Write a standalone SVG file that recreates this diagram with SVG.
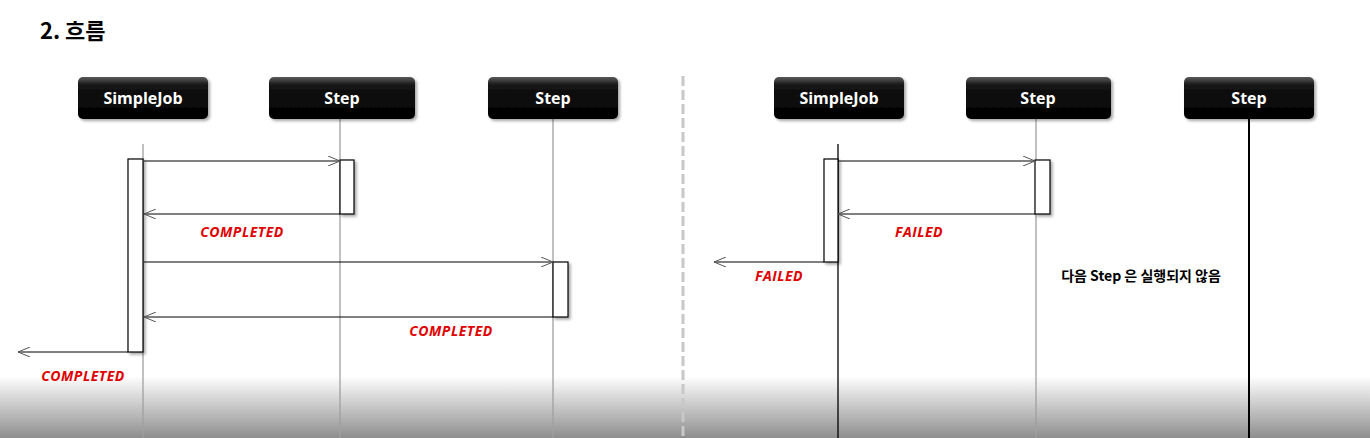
<svg xmlns="http://www.w3.org/2000/svg" width="1370" height="438" viewBox="0 0 1370 438">
<defs>
<linearGradient id="bg" x1="0" y1="0" x2="0" y2="1">
<stop offset="0" stop-color="#ffffff"/>
<stop offset="1" stop-color="#8e8e8e"/>
</linearGradient>
<linearGradient id="hd" x1="0" y1="0" x2="0" y2="1">
<stop offset="0" stop-color="#5a5a5a"/>
<stop offset="0.2" stop-color="#141414"/>
<stop offset="1" stop-color="#000000"/>
</linearGradient>
<filter id="sh" x="-20%" y="-20%" width="150%" height="150%">
<feDropShadow dx="2" dy="2" stdDeviation="1.5" flood-color="#000" flood-opacity="0.35"/>
</filter>
<marker id="oa" viewBox="0 0 12 10" refX="12" refY="5" markerWidth="12" markerHeight="10" markerUnits="userSpaceOnUse" orient="auto">
<path d="M0,0 L12,5 L0,10" fill="none" stroke="#555" stroke-width="1"/>
</marker>
</defs>
<style>
.hdr{fill:url(#hd);filter:url(#sh)}
.ht{font-family:"Open Sans","Noto Sans",sans-serif;font-weight:bold;font-size:16px;fill:#fff;text-anchor:middle}
.ll{stroke:#a0a0a0;stroke-width:1.3}
.llb{stroke:#000;stroke-width:1.3}
.act{fill:#fff;stroke:#000;stroke-width:1.2;filter:url(#sh)}
.msg{stroke:#000;stroke-width:1;fill:none;marker-end:url(#oa)}
.st{font-family:"Open Sans","Noto Sans",sans-serif;font-weight:bold;font-style:italic;font-size:14px;letter-spacing:0.5px;fill:#e00000;text-anchor:middle}
.note{font-family:"Noto Sans CJK KR","Noto Sans",sans-serif;font-weight:bold;font-size:14px;fill:#000;text-anchor:middle}
</style>
<rect x="0" y="0" width="1370" height="438" fill="#fff"/>
<rect x="0" y="376" width="1370" height="62" fill="url(#bg)"/>
<text x="40" y="39" font-family="Noto Sans CJK KR, sans-serif" font-weight="bold" font-size="22" fill="#000">2. 흐름</text>
<line x1="683" y1="76" x2="683" y2="438" stroke="#c8c8c8" stroke-width="3" stroke-dasharray="10,4"/>

<g id="lifelines">
<line class="ll" x1="143" y1="144" x2="143" y2="438"/>
<line class="ll" x1="340" y1="119" x2="340" y2="438"/>
<line class="ll" x1="553" y1="119" x2="553" y2="438"/>
<line class="llb" x1="838" y1="144" x2="838" y2="438"/>
<line class="ll" x1="1036" y1="119" x2="1036" y2="438"/>
<line x1="1249" y1="119" x2="1249" y2="438" stroke="#000" stroke-width="2"/>
</g>

<g id="node-simplejob-left"><rect class="hdr" x="78" y="77" width="130" height="42" rx="5"/><text class="ht" x="143" y="104">SimpleJob</text></g>
<g id="node-step1-left"><rect class="hdr" x="269" y="77" width="146" height="42" rx="5"/><text class="ht" x="342" y="104">Step</text></g>
<g id="node-step2-left"><rect class="hdr" x="488" y="77" width="130" height="42" rx="5"/><text class="ht" x="553" y="104">Step</text></g>
<g id="node-simplejob-right"><rect class="hdr" x="774" y="77" width="130" height="42" rx="5"/><text class="ht" x="839" y="104">SimpleJob</text></g>
<g id="node-step1-right"><rect class="hdr" x="966" y="77" width="145" height="42" rx="5"/><text class="ht" x="1038" y="104">Step</text></g>
<g id="node-step2-right"><rect class="hdr" x="1184" y="77" width="130" height="42" rx="5"/><text class="ht" x="1249" y="104">Step</text></g>

<g id="activations">
<rect class="act" x="128" y="159" width="15" height="193"/>
<rect class="act" x="340" y="160" width="14" height="54"/>
<rect class="act" x="553" y="262" width="15" height="55"/>
<rect class="act" x="824" y="159" width="14" height="103"/>
<rect class="act" x="1035" y="160" width="15" height="54"/>
</g>

<g id="connectors">
<line class="msg" x1="144" y1="161" x2="340" y2="161"/>
<line class="msg" x1="340" y1="214" x2="144" y2="214"/>
<line class="msg" x1="144" y1="262" x2="553" y2="262"/>
<line class="msg" x1="553" y1="317" x2="144" y2="317"/>
<line class="msg" x1="128" y1="352" x2="18" y2="352"/>
<line class="msg" x1="838" y1="161" x2="1035" y2="161"/>
<line class="msg" x1="1035" y1="214" x2="838" y2="214"/>
<line class="msg" x1="824" y1="262" x2="714" y2="262"/>
</g>

<g id="labels">
<text class="st" x="242" y="237">COMPLETED</text>
<text class="st" x="451" y="336">COMPLETED</text>
<text class="st" x="83" y="381">COMPLETED</text>
<text class="st" x="919" y="237">FAILED</text>
<text class="st" x="779" y="281">FAILED</text>
<text class="note" x="1141" y="281">다음 Step 은 실행되지 않음</text>
</g>
</svg>
